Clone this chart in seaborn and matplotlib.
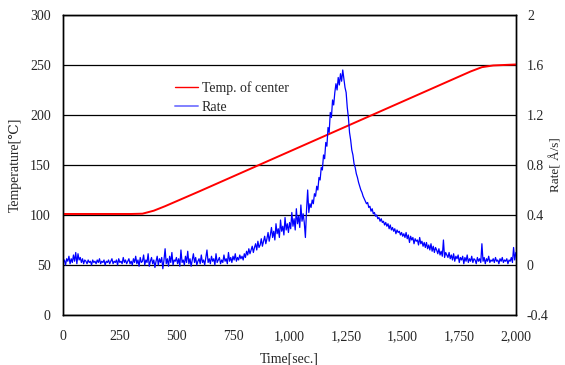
import numpy as np
import pandas as pd
import matplotlib
matplotlib.use("Agg")
import matplotlib.pyplot as plt
import seaborn as sns
from matplotlib.ticker import FuncFormatter, MultipleLocator


# DATA

temp_time = [0, 50, 100, 150, 200, 250, 300, 350, 400, 450, 500, 550, 600, 650,
             700, 750, 800, 850, 900, 950, 1000, 1050, 1100, 1150, 1200, 1250,
             1300, 1350, 1400, 1450, 1500, 1550, 1600, 1650, 1700, 1750, 1800,
             1850, 1900, 1950, 2000]
temp_center = [101, 101, 101, 101, 101, 101, 101, 101.3, 104.3, 108.8, 113.7, 118.6,
               123.5, 128.5, 133.5, 138.5, 143.5, 148.5, 153.5, 158.5, 163.5, 168.5,
               173.5, 178.5, 183.5, 188.5, 193.5, 198.5, 203.5, 208.5, 213.5, 218.5,
               223.5, 228.5, 233.5, 238.5, 243.5, 247.8, 249.5, 250, 250.5]

# rate sampled every 5 sec
rate_values = [
    0.02, 0.04, 0.00, 0.05, 0.03, 0.07, 0.01, 0.05, 0.02, 0.08, 0.03, 0.10, 0.01, 0.09, 0.04, 0.06, 0.02, 0.05, 0.01, 0.04,
    0.03, 0.01, 0.04, 0.02, 0.03, 0.00, 0.04, 0.02, 0.03, 0.01, 0.04, 0.02, 0.05, 0.01, 0.03, 0.02, 0.04, 0.00, 0.03, 0.02,
    0.04, 0.01, 0.03, 0.05, 0.01, 0.03, 0.02, 0.04, 0.00, 0.05, 0.02, 0.03, 0.01, 0.06, 0.02, 0.04, 0.01, 0.03, 0.05, 0.01,
    0.03, 0.00, 0.05, 0.02, 0.07, 0.01, 0.04, -0.01, 0.06, 0.02, 0.03, 0.08, 0.00, 0.04, 0.02, 0.09, -0.01, 0.03, 0.06, 0.01,
    0.04, -0.02, 0.03, 0.07, 0.00, 0.05, 0.02, 0.06, -0.03, 0.04, 0.13, 0.01, 0.05, -0.01, 0.07, 0.02, 0.10, 0.00, 0.04, 0.03,
    0.06, 0.01, 0.05, -0.01, 0.12, 0.02, 0.04, 0.00, 0.07, 0.02, 0.11, 0.01, 0.05, -0.01, 0.04, 0.09, 0.02, 0.06, 0.00, 0.03,
    0.05, 0.01, 0.08, 0.02, 0.04, 0.00, 0.06, 0.12, 0.02, 0.05, 0.01, 0.07, 0.03, 0.05, 0.00, 0.09, 0.02, 0.04, 0.06, 0.01,
    0.04, 0.02, 0.08, 0.03, 0.05, 0.01, 0.10, 0.03, 0.06, 0.02, 0.07, 0.04, 0.09, 0.03, 0.06, 0.04, 0.08, 0.05, 0.07, 0.04,
    0.09, 0.06, 0.11, 0.08, 0.13, 0.09, 0.12, 0.15, 0.10, 0.14, 0.17, 0.12, 0.19, 0.14, 0.16, 0.21, 0.15, 0.19, 0.23, 0.17,
    0.21, 0.26, 0.19, 0.24, 0.30, 0.22, 0.27, 0.20, 0.33, 0.25, 0.29, 0.22, 0.36, 0.27, 0.31, 0.24, 0.38, 0.28, 0.33, 0.26,
    0.34, 0.29, 0.42, 0.31, 0.37, 0.28, 0.45, 0.33, 0.39, 0.30, 0.48, 0.35, 0.41, 0.34, 0.22, 0.44, 0.60, 0.42, 0.49, 0.46,
    0.52, 0.49, 0.57, 0.55, 0.63, 0.60, 0.70, 0.68, 0.78, 0.76, 0.88, 0.85, 0.98, 0.95, 1.10, 1.06, 1.22, 1.18, 1.32, 1.28,
    1.38, 1.45, 1.40, 1.50, 1.44, 1.53, 1.47, 1.56, 1.49, 1.42, 1.38, 1.26, 1.18, 1.06, 1.00, 0.92, 0.88, 0.81, 0.78, 0.73,
    0.70, 0.66, 0.63, 0.60, 0.58, 0.55, 0.53, 0.51, 0.49, 0.50, 0.46, 0.47, 0.43, 0.45, 0.41, 0.42, 0.39, 0.40, 0.37, 0.38,
    0.35, 0.37, 0.34, 0.35, 0.32, 0.34, 0.31, 0.33, 0.29, 0.32, 0.28, 0.30, 0.27, 0.29, 0.25, 0.28, 0.26, 0.27, 0.24, 0.26,
    0.23, 0.25, 0.22, 0.26, 0.21, 0.24, 0.18, 0.23, 0.20, 0.22, 0.17, 0.21, 0.19, 0.20, 0.16, 0.22, 0.17, 0.19, 0.15, 0.18,
    0.14, 0.18, 0.13, 0.16, 0.12, 0.17, 0.11, 0.15, 0.10, 0.14, 0.12, 0.09, 0.13, 0.08, 0.11, 0.07, 0.20, 0.06, 0.10, 0.08,
    0.06, 0.10, 0.05, 0.08, 0.04, 0.09, 0.03, 0.07, 0.05, 0.08, 0.02, 0.06, 0.04, 0.07, 0.01, 0.06, 0.03, 0.08, 0.02, 0.05,
    0.03, 0.07, 0.02, 0.05, 0.04, 0.01, 0.06, 0.03, 0.05, 0.02, 0.17, 0.03, 0.06, 0.01, 0.05, 0.03, 0.07, 0.02, 0.04, 0.03,
    0.05, 0.02, 0.06, 0.03, 0.04, 0.01, 0.05, 0.03, 0.06, 0.02, 0.04, 0.03, 0.05, 0.01, 0.04, 0.03, 0.06, 0.02, 0.14, 0.04,
    0.10,
]
rate_time = [5 * i for i in range(len(rate_values))]

temp_df = pd.DataFrame({"Time": temp_time, "Temp": temp_center})
rate_df = pd.DataFrame({"Time": rate_time, "Rate": rate_values})


# STYLE

sns.set_style("white")
plt.rcParams["font.family"] = ["Liberation Serif", "DejaVu Serif", "DejaVu Sans"]
plt.rcParams["font.size"] = 10


# PLOT

fig = plt.figure(figsize=(5.65, 3.65), dpi=100)
ax = fig.add_axes([0.112, 0.137, 0.801, 0.822])
ax2 = ax.twinx()

sns.lineplot(data=temp_df, x="Time", y="Temp", ax=ax, color="#ff0000",
             linewidth=1.4, zorder=3)
sns.lineplot(data=rate_df, x="Time", y="Rate", ax=ax2, color="#0000ff",
             linewidth=0.9)

ax.set_xlim(0, 2000)
ax.set_ylim(0, 300)
ax2.set_ylim(-0.4, 2.0)

ax.xaxis.set_major_locator(MultipleLocator(250))
ax.xaxis.set_minor_locator(MultipleLocator(125))
ax.xaxis.set_major_formatter(FuncFormatter(lambda v, p: f"{int(v):,}"))
ax.yaxis.set_major_locator(MultipleLocator(50))
ax2.yaxis.set_major_locator(MultipleLocator(0.4))
ax2.yaxis.set_major_formatter(FuncFormatter(
    lambda v, p: f"{v:.1f}".rstrip("0").rstrip(".") if abs(v) > 1e-9 else "0"))

ax.tick_params(axis="x", which="both", direction="in", length=4, width=0.8,
               pad=11, labelsize=10)
ax.tick_params(axis="y", length=0, pad=9, labelsize=10)
ax2.tick_params(axis="y", length=0, pad=8, labelsize=10)

ax.grid(axis="y", color="black", linewidth=0.9)
ax.set_axisbelow(True)
for sp in list(ax.spines.values()) + list(ax2.spines.values()):
    sp.set_color("black")
    sp.set_linewidth(1.0)

ax.set_xlabel("Time[sec.]", fontsize=10, labelpad=7)
ax.set_ylabel("Temperature[℃]", fontsize=10, labelpad=6)
ax2.set_ylabel("Rate[ Å/s]", fontsize=9.5, labelpad=1)

# legend (frameless, upper left-centre)
h1 = plt.Line2D([], [], color="#ff0000", linewidth=1.0)
h2 = plt.Line2D([], [], color="#8080ff", linewidth=1.4)
ax.legend([h1, h2], ["Temp. of center", "Rate"], loc="upper left",
          bbox_to_anchor=(0.22, 0.82), frameon=False, fontsize=10,
          handlelength=1.6, handletextpad=0.3, labelspacing=0.4)

fig.savefig("out.png", dpi=100)
